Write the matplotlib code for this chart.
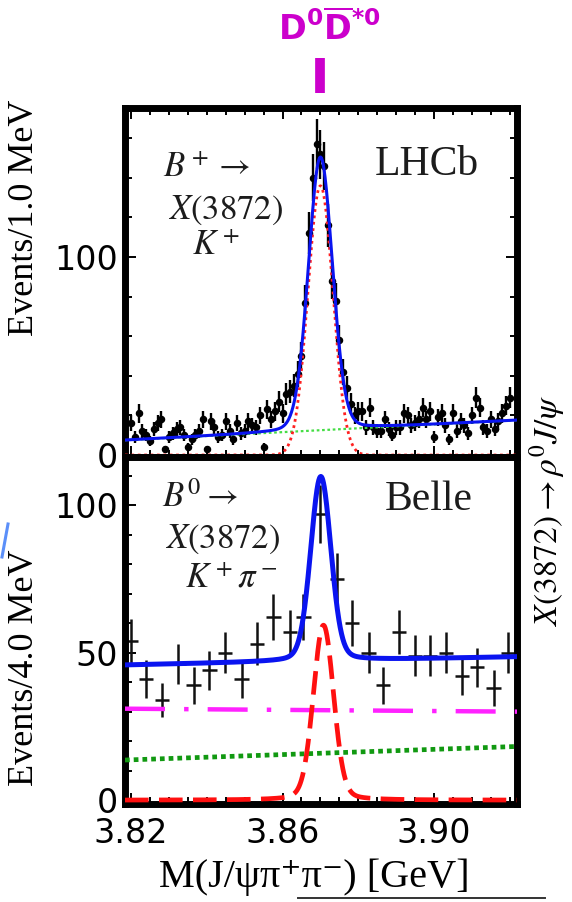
import numpy as np
import matplotlib
matplotlib.use("Agg")
import matplotlib.pyplot as plt
import matplotlib.transforms as mtransforms
from matplotlib.lines import Line2D
from matplotlib.ticker import FixedLocator, MultipleLocator, FormatStrFormatter

# ---------------- LHCb: B+ -> X(3872) K+, 1 MeV bins ----------------
lhcb_first_bin = 3.8200   # GeV, centre of first bin
lhcb_bin_width = 0.0010   # GeV
lhcb_counts = [
    16, 9, 21, 12, 10, 7, 13, 16, 18, 3,
    9, 11, 13, 14, 10, 4, 8, 10, 12, 18,
    3, 17, 14, 9, 10, 17, 12, 8, 16, 11,
    12, 17, 15, 14, 20, 4, 23, 18, 22, 27,
    21, 31, 32, 35, 41, 50, 77, 112, 140, 157,
    152, 146, 116, 88, 78, 58, 42, 34, 26, 20,
    22, 22, 14, 24, 14, 12, 12, 18, 13, 10,
    14, 14, 21, 20, 15, 16, 18, 24, 18, 22,
    9, 19, 21, 15, 8, 21, 12, 17, 15, 11,
    20, 29, 24, 14, 12, 18, 13, 17, 21, 25,
    29,
]

# LHCb fit model parameters
lhcb_peak_mass = 3.8700
lhcb_sig_amp = 138.0
lhcb_sig_sigma = 0.0032
lhcb_sig_tail_hwhm = 0.0035
lhcb_sig_tail_frac = 0.12
lhcb_comp_amp = 136.0
lhcb_comp_sigma = 0.0033
lhcb_bkg_ends = [7.5, 17.6]

# ---------------- Belle: B0 -> X(3872) K+ pi-, 4 MeV bins ----------------
belle_mass = [3.8199, 3.8240, 3.8281, 3.8325, 3.8365, 3.8407, 3.8448, 3.8492,
              3.8532, 3.8576, 3.8620, 3.8655, 3.8699, 3.8743, 3.8783, 3.8827,
              3.8866, 3.8908, 3.8950, 3.8989, 3.9032, 3.9073, 3.9113, 3.9157,
              3.9196]
belle_counts = [54, 41, 34, 46, 39, 44, 50, 41, 53, 62, 57, 62, 97,
                75, 60, 50, 39, 57, 49, 49, 50, 42, 45, 38, 50]
belle_half_bin = 0.0019

# Belle fit model parameters
belle_peak_mass = 3.8701
belle_sig_amp = 62.5
belle_comp_mass = 3.8708
belle_comp_amp = 59.3
belle_sig_sigma = 0.00265
belle_sig_tail_hwhm = 0.0035
belle_sig_tail_frac = 0.15
belle_total_bkg_ends = [45.8, 48.6]
belle_comb_bkg_ends = [31.0, 30.0]
belle_lin_bkg_ends = [13.6, 18.2]

mass_range = (3.8184, 3.9219)
mass_ticks = [3.82, 3.86, 3.90]


def peak_shape(m, m0, amp, sigma, hwhm, tail_frac):
    d = m - m0
    core = np.exp(-0.5 * (d / sigma) ** 2)
    tail = 1.0 / (1.0 + (d / hwhm) ** 2)
    return amp * ((1.0 - tail_frac) * core + tail_frac * tail)


def straight(m, ends):
    return np.interp(m, mass_range, ends)


# ---------------- figure layout (pixel boxes) ----------------
W, H = 572, 902
fig = plt.figure(figsize=(W / 100, H / 100), dpi=100)


def box(x0, y0, x1, y1):
    return [x0 / W, 1 - y1 / H, (x1 - x0) / W, (y1 - y0) / H]


def fx(px):
    return px / W


def fy(py):
    return 1 - py / H


ax_top = fig.add_axes(box(125, 108, 517, 457))
ax_bot = fig.add_axes(box(125, 457, 517, 804), sharex=ax_top)

mgrid = np.linspace(mass_range[0], mass_range[1], 1500)

# ---- LHCb panel ----
lhcb_mass = lhcb_first_bin + lhcb_bin_width * np.arange(len(lhcb_counts))
lhcb_y = np.array(lhcb_counts, dtype=float)
ax_top.errorbar(lhcb_mass, lhcb_y, yerr=np.sqrt(lhcb_y), xerr=lhcb_bin_width / 2,
                fmt="o", ms=4.4, color="black", ecolor="black",
                elinewidth=1.7, capsize=0, zorder=3)
lhcb_bkg = straight(mgrid, lhcb_bkg_ends)
lhcb_sig = peak_shape(mgrid, lhcb_peak_mass, lhcb_sig_amp, lhcb_sig_sigma,
                      lhcb_sig_tail_hwhm, lhcb_sig_tail_frac)
lhcb_comp = peak_shape(mgrid, lhcb_peak_mass, lhcb_comp_amp, lhcb_comp_sigma, 1.0, 0.0)
ax_top.plot(mgrid, lhcb_bkg, color="#44dd44", lw=1.6, ls=(0, (1.2, 1.2)), zorder=4)
ax_top.plot(mgrid, lhcb_comp, color="#ff2020", lw=2.0, ls=(0, (1, 1.3)), zorder=4)
ax_top.plot(mgrid, lhcb_bkg + lhcb_sig, color="#0a14f0", lw=2.2, zorder=5)
ax_top.set_ylim(-1.0, 175.3)

# ---- Belle panel ----
ax_bot.errorbar(belle_mass, belle_counts, yerr=np.sqrt(belle_counts),
                xerr=belle_half_bin, fmt="none", ecolor="#111111",
                elinewidth=1.8, capsize=0, zorder=2)
belle_sig = peak_shape(mgrid, belle_peak_mass, belle_sig_amp, belle_sig_sigma,
                       belle_sig_tail_hwhm, belle_sig_tail_frac)
belle_comp = peak_shape(mgrid, belle_comp_mass, belle_comp_amp, belle_sig_sigma,
                        belle_sig_tail_hwhm, belle_sig_tail_frac)
ax_bot.plot(mgrid, straight(mgrid, belle_lin_bkg_ends), color="#119911", lw=3.4,
            ls=(0, (1, 0.85)), dash_capstyle="butt", zorder=3)
ax_bot.plot(mgrid, straight(mgrid, belle_comb_bkg_ends), color="#ff22ff", lw=3.2,
            ls=(0, (9, 4.3, 1, 4.3)), dash_capstyle="butt", zorder=3)
ax_bot.plot(mgrid, belle_comp, color="#ff1010", lw=3.4,
            ls=(0, (5, 2.2)), dash_capstyle="butt", zorder=3)
ax_bot.plot(mgrid, straight(mgrid, belle_total_bkg_ends) + belle_sig,
            color="#0a14f0", lw=3.6, zorder=4)
ax_bot.set_ylim(-1.3, 116.3)
ax_bot.set_xlim(*mass_range)

# ---- frames and ticks ----
for ax in (ax_top, ax_bot):
    for sp in ax.spines.values():
        sp.set_linewidth(5.0)
        sp.set_color("black")
    ax.tick_params(which="both", direction="in", labelsize=24, width=1.4,
                   colors="black")
    ax.tick_params(which="major", length=8)
    ax.tick_params(which="minor", length=5)
    ax.xaxis.set_minor_locator(MultipleLocator(0.005))
    ax.xaxis.set_major_locator(FixedLocator(mass_ticks))

ax_top.yaxis.set_major_locator(FixedLocator([0, 100]))
ax_top.yaxis.set_minor_locator(MultipleLocator(20))
ax_top.tick_params(which="both", top=True, right=True, labelbottom=False)
ax_top.tick_params(axis="y", which="major", pad=5)

ax_bot.yaxis.set_major_locator(FixedLocator([0, 50, 100]))
ax_bot.yaxis.set_minor_locator(MultipleLocator(10))
ax_bot.tick_params(which="both", top=False, right=False)
ax_bot.tick_params(axis="y", which="major", pad=5)
ax_bot.tick_params(axis="x", which="major", pad=9.5)
ax_bot.xaxis.set_major_formatter(FormatStrFormatter("%.2f"))

# ---- labels ----
serif = ["Liberation Serif", "DejaVu Serif"]
fig.text(fx(25), fy(218), "Events/1.0 MeV", rotation=90, ha="center", va="center",
         family=serif, size=26)
fig.text(fx(25), fy(668), "Events/4.0 MeV", rotation=90, ha="center", va="center",
         family=serif, size=26)
fig.text(fx(314), fy(877), "M(J/ψπ⁺π⁻) [GeV]", ha="center", va="center",
         family=serif, size=29)
fig.text(fx(547), fy(510), r"$X(3872)\rightarrow\rho^0 J/\psi$", rotation=90,
         ha="center", va="center", size=24, math_fontfamily="stix")

dark = "#1c1c1c"
for (px, py, s) in [(207, 167, r"$B^+\rightarrow$"), (226, 210, r"$X(3872)$"),
                    (216, 245, r"$K^+$"), (200, 497, r"$B^0\rightarrow$"),
                    (223, 539, r"$X(3872)$"), (231, 577, r"$K^+\pi^-$")]:
    fig.text(fx(px), fy(py), s, ha="center", va="center", size=25,
             math_fontfamily="stix", color=dark)

fig.text(fx(427), fy(165), "LHCb", ha="center", va="center", family=serif,
         size=30, color=dark)
fig.text(fx(429), fy(500), "Belle", ha="center", va="center", family=serif,
         size=30, color=dark)

# ---- D0 D*0-bar threshold marker ----
magenta = "#cc00cc"
fig.text(fx(329), fy(28), r"$\mathbf{D^0\overline{D}^{*0}}$", ha="center",
         va="center", size=24, math_fontfamily="dejavusans", color=magenta)
marker_tr = mtransforms.blended_transform_factory(ax_top.transData, fig.transFigure)
ax_top.plot([lhcb_peak_mass, lhcb_peak_mass], [fy(93), fy(58)], color=magenta,
            lw=7, solid_capstyle="butt", transform=marker_tr, clip_on=False)

# ---- decorations ----
fig.add_artist(Line2D([fx(8), fx(2)], [fy(524), fy(557)], color="#5b8ff9", lw=2.2))
fig.add_artist(Line2D([fx(298), fx(545)], [fy(898), fy(898)], color="#333333", lw=1.4))

fig.savefig("out.png", dpi=100)
